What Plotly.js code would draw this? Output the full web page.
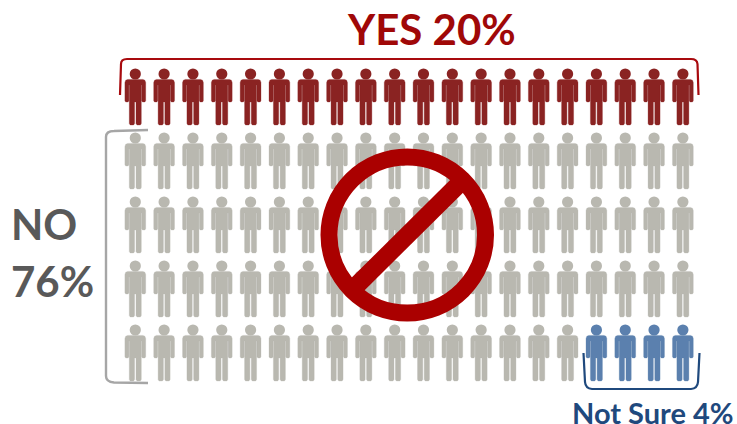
<!DOCTYPE html>
<html>
<head>
<meta charset="utf-8">
<script src="https://cdn.plot.ly/plotly-3.0.1.min.js"></script>
<style>html,body{margin:0;padding:0;background:#fff}#chart{width:737px;height:424px}</style>
</head>
<body>
<div id="chart"></div>
<script>
// Poll result: one figure per percent, filled in reading order
var categories = ["YES", "NO", "Not Sure"];
var shares = [20, 76, 4];
var labels = ["YES 20%", "NO", "76%", "Not Sure 4%"];
var figureColors = ["#8A2322", "#B9B8B0", "#5B80AE"];
var textColors = ["#A00808", "#595959", "#1F497D"];
var columnCount = 20;
var firstColumnX = 135.3, columnStep = 28.82;
var rowHeadY = [74, 138, 202, 266, 330];

// Half a figure's body, measured from the centre of its head
var bodyHalf = [[0,5.4],[7.6,5.4],[9.6,6.2],[10.4,8.4],[10.4,26.8],[9.6,28],[7.2,28],[6.4,26.8],[6.4,11],[6,11],[6,49.6],[5.1,51],[1.7,51],[0.7,49.6],[0.7,28],[0,28]];

function slots(idx) {
  return {x: firstColumnX + (idx % columnCount) * columnStep, y: rowHeadY[Math.floor(idx / columnCount)]};
}
var traces = [], start = 0;
categories.forEach(function (name, c) {
  var bx = [], by = [], hx = [], hy = [];
  for (var i = start; i < start + shares[c]; i++) {
    var p = slots(i);
    hx.push(p.x); hy.push(p.y);
    bodyHalf.forEach(function (q) { bx.push(p.x + q[0]); by.push(p.y + q[1]); });
    bodyHalf.slice().reverse().forEach(function (q) { bx.push(p.x - q[0]); by.push(p.y + q[1]); });
    bx.push(null); by.push(null);
  }
  start += shares[c];
  traces.push({x: bx, y: by, mode: "lines", fill: "toself", fillcolor: figureColors[c],
    line: {width: 0.3, color: figureColors[c]}, name: name, hoverinfo: "skip", showlegend: false, connectgaps: false});
  traces.push({x: hx, y: hy, mode: "markers", marker: {symbol: "circle", size: 11.2, color: figureColors[c], line: {width: 0}},
    name: name, hoverinfo: "skip", showlegend: false});
});

var hiddenAxis = {visible: false, showgrid: false, zeroline: false, fixedrange: true};
var layout = {
  width: 737, height: 424,
  margin: {l: 0, r: 0, t: 0, b: 0},
  paper_bgcolor: "#fff", plot_bgcolor: "#fff", showlegend: false,
  xaxis: Object.assign({range: [0, 737]}, hiddenAxis),
  yaxis: Object.assign({range: [424, 0]}, hiddenAxis),
  shapes: [
    {type: "path", path: "M120,95 L121,64 Q121,59 127,59 L691,59 Q697,59 697.5,64 L698.5,95", line: {color: "#A80A0E", width: 2.2}},
    {type: "path", path: "M148,130 L114,131 Q106,131 106,137 L106,376 Q106,382 114,382.5 L148,383", line: {color: "#A6A6A6", width: 2.4}},
    {type: "path", path: "M583.5,353 L585,382 Q585.5,388.5 592,389 L691,389 Q697.5,388.5 698,382 L699.5,353", line: {color: "#1F497D", width: 2.2}},
    {type: "circle", x0: 329, y0: 157, x1: 485.5, y1: 313, line: {color: "#AA0000", width: 17}, fillcolor: "rgba(0,0,0,0)"},
    {type: "line", x0: 352, y0: 290, x1: 462, y1: 181, line: {color: "#AA0000", width: 18}}
  ],
  annotations: [
    {x: 431, y: 29, text: labels[0], xanchor: "center", yanchor: "middle", showarrow: false, font: {family: "Lato", size: 42, color: textColors[0]}},
    {x: 10, y: 224, text: labels[1], xanchor: "left", yanchor: "middle", showarrow: false, font: {family: "Lato", size: 42, color: textColors[1]}},
    {x: 10, y: 281, text: labels[2], xanchor: "left", yanchor: "middle", showarrow: false, font: {family: "Lato", size: 42, color: textColors[1]}},
    {x: 653, y: 412, text: labels[3], xanchor: "center", yanchor: "middle", showarrow: false, font: {family: "Lato", size: 29, color: textColors[2]}}
  ].map(function (a) { a.text = "<b>" + a.text + "</b>"; a.xref = "x"; a.yref = "y"; a.borderpad = 0; return a; })
};
Plotly.newPlot("chart", traces, layout, {displayModeBar: false, staticPlot: true});
</script>
</body>
</html>
